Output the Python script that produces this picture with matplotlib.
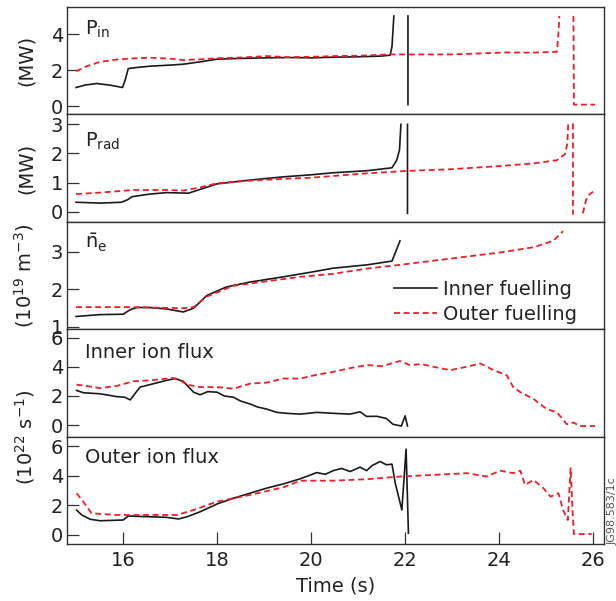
import numpy as np
import matplotlib
matplotlib.use("Agg")
import matplotlib.pyplot as plt

nan = np.nan

# P_in (MW)
pin_in_t = [15.0, 15.2, 15.44, 15.72, 15.99, 16.05, 16.11, 16.3, 16.57, 17.0, 17.28, 17.64, 18.0, 18.5,
            19.0, 19.5, 20.0, 20.5, 21.0, 21.5, 21.68, 21.72, 21.76, nan, 22.06, 22.06]
pin_in_v = [1.04, 1.18, 1.26, 1.17, 1.04, 1.5, 2.09, 2.15, 2.22, 2.28, 2.33, 2.46, 2.61, 2.65,
            2.68, 2.70, 2.68, 2.72, 2.74, 2.78, 2.83, 3.3, 5.0, nan, 5.0, 0.09]
pin_out_t = [15.0, 15.23, 15.51, 15.87, 16.2, 16.57, 17.0, 17.28, 17.64, 18.0, 18.5, 19.06, 19.5, 20.0,
             20.5, 21.0, 21.68, 22.0, 22.5, 22.96, 23.5, 24.16, 24.7, 25.23, 25.26, 25.28, nan,
             25.58, 25.59, 26.04]
pin_out_v = [1.94, 2.22, 2.46, 2.59, 2.65, 2.69, 2.64, 2.56, 2.6, 2.66, 2.7, 2.78, 2.72, 2.74,
             2.78, 2.8, 2.87, 2.87, 2.87, 2.87, 2.92, 2.98, 2.97, 3.02, 4.0, 5.0, nan,
             5.0, 0.09, 0.09]

# P_rad (MW)
prad_in_t = [15.0, 15.51, 15.97, 16.1, 16.19, 16.57, 16.93, 17.39, 17.64, 18.0, 18.7, 19.41, 20.0,
             20.47, 21.19, 21.72, 21.82, 21.88, 21.91, nan, 22.05, 22.05]
prad_in_v = [0.33, 0.30, 0.33, 0.42, 0.52, 0.61, 0.66, 0.64, 0.77, 0.96, 1.09, 1.2, 1.27,
             1.34, 1.41, 1.51, 1.77, 2.12, 3.0, nan, 3.0, -0.05]
prad_out_t = [15.0, 15.51, 16.22, 16.93, 17.28, 17.64, 18.0, 18.7, 19.41, 20.0, 20.47, 21.19, 22.0,
              22.96, 24.02, 24.73, 25.23, 25.4, 25.45, 25.47, nan, 25.57, 25.57, nan,
              25.78, 25.85, 25.92, 26.0]
prad_out_v = [0.61, 0.66, 0.75, 0.75, 0.73, 0.84, 0.98, 1.07, 1.13, 1.17, 1.23, 1.32, 1.4,
              1.46, 1.57, 1.66, 1.77, 1.98, 2.34, 3.03, nan, 3.03, -0.1, nan,
              -0.05, 0.41, 0.6, 0.69]

# line-averaged density (1e19 m^-3)
ne_in_t = [15.0, 15.51, 16.0, 16.15, 16.29, 16.57, 16.93, 17.28, 17.5, 17.78, 18.2, 18.7, 19.41,
           19.98, 20.47, 21.19, 21.72, 21.89]
ne_in_v = [1.27, 1.32, 1.33, 1.45, 1.51, 1.51, 1.47, 1.39, 1.49, 1.83, 2.06, 2.19, 2.33,
           2.45, 2.56, 2.65, 2.75, 3.29]
ne_out_t = [15.0, 16.2, 17.28, 17.5, 17.78, 18.34, 19.05, 19.77, 20.47, 21.19, 21.89, 22.6, 23.31,
            24.02, 24.73, 25.15, 25.36]
ne_out_v = [1.52, 1.52, 1.49, 1.52, 1.80, 2.09, 2.21, 2.33, 2.41, 2.55, 2.65, 2.76, 2.87,
            2.98, 3.12, 3.29, 3.55]

# inner ion flux (1e22 s^-1)
iflux_in_t = [15.01, 15.16, 15.51, 15.86, 16.04, 16.15, 16.36, 16.57, 16.93, 17.11, 17.28, 17.5, 17.64,
              17.8, 18.0, 18.15, 18.35, 18.5, 18.7, 18.85, 19.05, 19.27, 19.5, 19.77, 20.12, 20.5,
              20.83, 21.04, 21.18, 21.4, 21.6, 21.74, 21.92, 22.0, 22.05]
iflux_in_v = [2.38, 2.22, 2.15, 1.96, 1.91, 1.73, 2.61, 2.78, 3.08, 3.2, 3.01, 2.26, 2.08,
              2.3, 2.26, 2.0, 1.91, 1.65, 1.45, 1.25, 1.1, 0.87, 0.8, 0.75, 0.87, 0.8,
              0.75, 0.91, 0.59, 0.6, 0.45, 0.05, -0.07, 0.63, -0.07]
iflux_out_t = [15.01, 15.2, 15.51, 15.86, 16.22, 16.57, 17.07, 17.2, 17.36, 17.64, 18.0, 18.35, 18.7,
               19.05, 19.41, 19.77, 20.1, 20.47, 20.8, 21.19, 21.5, 21.89, 22.1, 22.35, 22.6, 22.96,
               23.31, 23.6, 23.88, 24.16, 24.3, 24.45, 24.73, 25.01, 25.23, 25.44, 25.58, 25.72, 26.04]
iflux_out_v = [2.78, 2.7, 2.54, 2.69, 3.01, 3.08, 3.24, 3.1, 2.78, 2.61, 2.61, 2.5, 2.85,
               2.92, 3.2, 3.2, 3.45, 3.66, 3.9, 4.13, 4.05, 4.41, 4.13, 4.2, 4.01, 3.78,
               4.01, 4.24, 3.78, 3.43, 2.61, 2.26, 1.8, 1.1, 0.87, 0.05, 0.17, -0.07, -0.07]

# outer ion flux (1e22 s^-1)
oflux_in_t = [15.01, 15.12, 15.3, 15.51, 16.0, 16.11, 16.57, 16.93, 17.18, 17.36, 17.64, 18.0, 18.35,
              18.7, 19.05, 19.41, 19.77, 19.98, 20.12, 20.3, 20.47, 20.65, 20.83, 21.04, 21.18, 21.3,
              21.47, 21.6, 21.72, 21.79, 21.93, 22.02, 22.07]
oflux_in_v = [1.68, 1.34, 1.05, 0.95, 1.0, 1.27, 1.22, 1.18, 1.07, 1.22, 1.56, 2.09, 2.48,
              2.82, 3.16, 3.45, 3.8, 4.05, 4.22, 4.1, 4.35, 4.5, 4.29, 4.59, 4.35, 4.7,
              4.97, 4.75, 4.79, 3.5, 1.68, 5.81, 0.1]
oflux_out_t = [15.01, 15.15, 15.33, 15.86, 16.57, 17.14, 17.5, 18.0, 18.7, 19.41, 19.77, 20.47, 21.19,
               21.89, 22.6, 23.31, 23.73, 24.02, 24.3, 24.45, 24.55, 24.73, 24.94, 25.09, 25.26, 25.36,
               25.46, 25.52, 25.56, 25.59, 25.97]
oflux_out_v = [2.82, 2.25, 1.46, 1.34, 1.34, 1.34, 1.68, 2.25, 2.7, 3.22, 3.67, 3.67, 3.77,
               3.95, 4.06, 4.18, 3.95, 4.35, 4.18, 4.35, 3.38, 3.72, 3.16, 2.59, 2.82, 1.68,
               1.0, 4.52, 1.68, 0.05, 0.05]

panels = [
    (pin_in_t, pin_in_v, pin_out_t, pin_out_v, (-0.45, 5.5), [0, 2, 4], "P$_{\\rm in}$", 0.738),
    (prad_in_t, prad_in_v, prad_out_t, prad_out_v, (-0.34, 3.34), [0, 1, 2, 3], "P$_{\\rm rad}$", 0.697),
    (ne_in_t, ne_in_v, ne_out_t, ne_out_v, (0.93, 3.8), [1, 2, 3], "$\\bar{\\rm n}_{\\rm e}$", 0.75),
    (iflux_in_t, iflux_in_v, iflux_out_t, iflux_out_v, (-0.8, 6.6), [0, 2, 4, 6], "Inner ion flux", 0.733),
    (oflux_in_t, oflux_in_v, oflux_out_t, oflux_out_v, (-0.63, 6.66), [0, 2, 4, 6], "Outer ion flux", 0.754),
]

plt.rcParams["font.family"] = ["DejaVu Sans"]
plt.rcParams["mathtext.fontset"] = "dejavusans"
plt.rcParams["font.size"] = 14

black = "#1a1a1a"
red = "#e8202a"
edge = "#333333"
txt = "#222222"

fig, axes = plt.subplots(5, 1, sharex=True, figsize=(6.16, 6.01), dpi=100)
fig.subplots_adjust(left=0.109, right=0.9805, top=0.9884, bottom=0.0948, hspace=0)

for ax, (ti, vi, to, vo, ylim, yt, name, ty) in zip(axes, panels):
    ax.plot(ti, vi, color=black, lw=1.2, label="Inner fuelling")
    ax.plot(to, vo, color=red, lw=1.3, dashes=(3.3, 2.0), label="Outer fuelling")
    ax.set_ylim(*ylim)
    ax.set_yticks(yt)
    ax.tick_params(axis="y", direction="in", length=8.4, width=0.9, pad=3,
                   color=edge, labelcolor=txt, labelsize=14)
    ax.tick_params(axis="x", length=0)
    for s in ax.spines.values():
        s.set_color(edge)
        s.set_linewidth(1.0)
    ax.text(0.033, ty, name, transform=ax.transAxes, va="baseline", ha="left",
            fontsize=14, color=txt)

axes[0].set_xlim(14.81, 26.23)
axes[-1].set_xticks([16, 18, 20, 22, 24, 26])
axes[-1].tick_params(axis="x", direction="in", length=8.4, width=0.9, pad=5,
                     color=edge, labelcolor=txt, labelsize=14)
axes[-1].set_xlabel("Time (s)", fontsize=14, color=txt, labelpad=5)

for ax, lab in zip(axes[:3], ["(MW)", "(MW)", "(10$^{19}$ m$^{-3}$)"]):
    ax.set_ylabel(lab, fontsize=14, color=txt)
    ax.yaxis.set_label_coords(-0.058, 0.5)
fig.text(0.0406, 0.273, "(10$^{22}$ s$^{-1}$)", rotation=90, ha="center", va="center",
         fontsize=14, color=txt)

axes[2].legend(loc="lower right", bbox_to_anchor=(0.964, -0.025), frameon=False,
               handlelength=2.2, handletextpad=0.3, labelspacing=0.3, borderaxespad=0,
               fontsize=14, labelcolor=txt)

fig.text(0.994, 0.093, "JG98.583/1c", rotation=90, ha="center", va="bottom",
         fontsize=8, color="#555555")

fig.savefig("out.png", dpi=100)
